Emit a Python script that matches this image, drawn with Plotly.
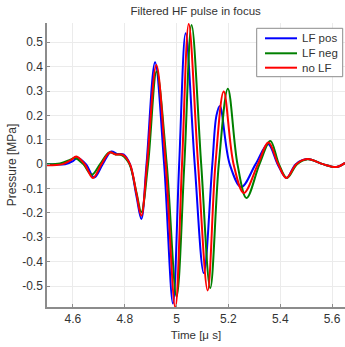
import plotly.graph_objects as go

# ---- data ----
t_pos = [4.50, 4.57, 4.60, 4.616, 4.65, 4.682, 4.715, 4.748, 4.77, 4.795, 4.82, 4.845, 4.864, 4.884, 4.917,
         4.952, 4.986, 5.01, 5.035, 5.07, 5.105, 5.138, 5.154, 5.167, 5.205, 5.25, 5.305, 5.353, 5.39, 5.424,
         5.46, 5.505, 5.565, 5.617, 5.65]
p_pos = [0.0, 0.0, 0.012, 0.025, 0.0, -0.055, 0.0, 0.052, 0.042, 0.04, 0.0, -0.13, -0.225, 0.0, 0.418,
         0.0, -0.572, 0.0, 0.537, 0.0, -0.447, 0.0, 0.2, 0.239, 0.0, -0.094, 0.0, 0.083, 0.0, -0.057,
         0.0, 0.021, 0.0, -0.012, 0.005]

t_neg = [4.50, 4.55, 4.59, 4.607, 4.64, 4.672, 4.705, 4.74, 4.765, 4.79, 4.818, 4.845, 4.864, 4.89, 4.923,
         4.962, 5.0, 5.03, 5.058, 5.095, 5.13, 5.163, 5.198, 5.235, 5.27, 5.32, 5.362, 5.395, 5.426,
         5.465, 5.507, 5.565, 5.617, 5.65]
p_neg = [0.0, 0.003, 0.018, 0.025, 0.0, -0.044, 0.0, 0.048, 0.04, 0.036, 0.0, -0.115, -0.197, 0.0, 0.38,
         0.0, -0.543, 0.0, 0.571, 0.0, -0.508, 0.0, 0.309, 0.0, -0.139, 0.0, 0.095, 0.0, -0.057,
         0.0, 0.02, 0.0, -0.012, 0.004]

t_no = [4.50, 4.56, 4.59, 4.613, 4.645, 4.677, 4.71, 4.742, 4.765, 4.793, 4.82, 4.845, 4.864, 4.886, 4.922,
        4.958, 4.995, 5.021, 5.047, 5.083, 5.12, 5.15, 5.182, 5.22, 5.26, 5.314, 5.355, 5.392, 5.424,
        5.462, 5.505, 5.565, 5.617, 5.65]
p_no = [-0.005, 0.0, 0.015, 0.031, 0.0, -0.057, 0.0, 0.048, 0.04, 0.038, 0.0, -0.12, -0.212, 0.0, 0.407,
        0.0, -0.588, 0.0, 0.575, 0.0, -0.518, 0.0, 0.298, 0.0, -0.118, 0.0, 0.089, 0.0, -0.057,
        0.0, 0.021, 0.0, -0.012, 0.005]

series_names = ["LF pos", "LF neg", "no LF"]

x_ticks = [4.6, 4.8, 5.0, 5.2, 5.4, 5.6]
x_ticktext = ["4.6", "4.8", "5", "5.2", "5.4", "5.6"]
y_ticks = [-0.5, -0.4, -0.3, -0.2, -0.1, 0, 0.1, 0.2, 0.3, 0.4, 0.5]
y_ticktext = ["-0.5", "-0.4", "-0.3", "-0.2", "-0.1", "0", "0.1", "0.2", "0.3", "0.4", "0.5"]

# ---- figure ----
FONT = "Liberation Sans, Arial, Helvetica, sans-serif"
TXT = "#333333"
colors = ["#0000ff", "#008000", "#ff0000"]

W, H = 345, 347
ML, MR, MT, MB = 47, 0, 23, 40
PW, PH = W - ML - MR, H - MT - MB


def px_x(px):
    return (px - ML) / PW


def px_y(py):
    return (H - MB - py) / PH


fig = go.Figure()
for (tx, py), name, col in zip([(t_pos, p_pos), (t_neg, p_neg), (t_no, p_no)], series_names, colors):
    fig.add_trace(go.Scatter(x=tx, y=py, mode="lines", name=name, showlegend=False,
                             line=dict(color=col, width=2, shape="spline", smoothing=1.0)))

axis_common = dict(showgrid=True, gridcolor="#ebebeb", gridwidth=1, zeroline=False,
                   showline=True, linecolor="#8c8c8c", linewidth=1.5,
                   ticks="inside", ticklen=3, tickcolor="#8c8c8c",
                   tickfont=dict(family=FONT, size=12, color=TXT))

# custom compact legend (MATLAB-style)
shapes = [dict(type="rect", xref="paper", yref="paper",
               x0=px_x(256.7), x1=px_x(342.7), y0=px_y(76.7), y1=px_y(28.3),
               line=dict(color="#8c8c8c", width=1), fillcolor="white", layer="above")]
annotations = []
row_y = [38.3, 53.3, 67.7]
for name, col, ry in zip(series_names, colors, row_y):
    shapes.append(dict(type="line", xref="paper", yref="paper",
                       x0=px_x(265), x1=px_x(297), y0=px_y(ry), y1=px_y(ry),
                       line=dict(color=col, width=2), layer="above"))
    annotations.append(dict(text=name, xref="paper", yref="paper", x=px_x(299.5), y=px_y(ry),
                            xanchor="left", yanchor="middle", showarrow=False,
                            font=dict(family=FONT, size=11.5, color=TXT)))

fig.update_layout(
    width=W, height=H,
    margin=dict(l=ML, r=MR, t=MT, b=MB),
    paper_bgcolor="white", plot_bgcolor="white",
    font=dict(family=FONT, size=12, color=TXT),
    title=dict(text="Filtered HF pulse in focus", x=0.567, xanchor="center",
               y=1 - 11 / H, yanchor="middle", yref="container",
               font=dict(family=FONT, size=11.5, color=TXT)),
    xaxis=dict(range=[4.5, 5.65], tickvals=x_ticks, ticktext=x_ticktext,
               title=dict(text="Time [μ s]", standoff=6, font=dict(family=FONT, size=11.5, color=TXT)),
               **axis_common),
    yaxis=dict(range=[-0.586, 0.579], tickvals=y_ticks, ticktext=y_ticktext,
               title=dict(text="Pressure [MPa]", standoff=3, font=dict(family=FONT, size=12, color=TXT)),
               **axis_common),
    shapes=shapes,
    annotations=annotations,
    showlegend=False,
)

fig.write_html("out.html")
